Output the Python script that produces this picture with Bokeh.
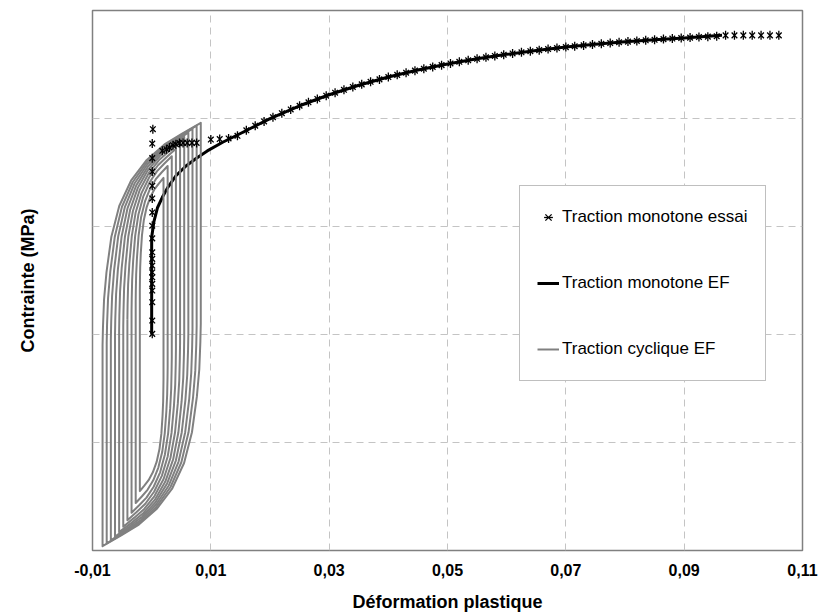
import math
from bokeh.plotting import figure
from bokeh.models import Range1d, FixedTicker, Legend, LegendItem
from bokeh.embed import file_html
from bokeh.resources import INLINE

# ---------------- data ----------------
x_ticks = [-0.01, 0.01, 0.03, 0.05, 0.07, 0.09, 0.11]
x_tick_labels = ["-0,01", "0,01", "0,03", "0,05", "0,07", "0,09", "0,11"]
y_ticks = [-200, -100, 0, 100, 200, 300]

# Traction monotone essai (stars)
essai_strain = [
    0.0001, 0.0001, 0.0001, 0.0001, 0.0001, 0.0001, 0.0001, 0.0001, 0.0001, 0.0001,
    0.0001, 0.0001, 0.0001, 0.0001, 0.0001, 0.0001, 0.0001, 0.0001, 0.0002,
    0.0018, 0.0025, 0.0030, 0.0036, 0.0041, 0.0047, 0.0053, 0.0060, 0.0068, 0.0076,
    0.0100, 0.0115, 0.0130, 0.0145,
    0.0160, 0.0175, 0.0190, 0.0205, 0.0220, 0.0235, 0.0250, 0.0265, 0.0280, 0.0295,
    0.0310, 0.0325, 0.0340, 0.0355, 0.0370, 0.0385, 0.0400, 0.0415, 0.0430, 0.0445,
    0.0460, 0.0475, 0.0490, 0.0505, 0.0520, 0.0535, 0.0550, 0.0565, 0.0580, 0.0595,
    0.0610, 0.0625, 0.0640, 0.0655, 0.0670, 0.0685, 0.0700, 0.0715, 0.0730, 0.0745,
    0.0760, 0.0775, 0.0790, 0.0805, 0.0820, 0.0835, 0.0850, 0.0865, 0.0880, 0.0895,
    0.0910, 0.0925, 0.0940, 0.0955,
    0.0970, 0.0985, 0.1000, 0.1015, 0.1030, 0.1045, 0.1060,
]
essai_stress = [
    0.6, 12.9, 29.9, 40.7, 46.9, 53.0, 57.6, 63.8, 70.0, 76.1,
    89.0, 100.7, 113.0, 126.0, 137.7, 150.9, 163.3, 176.8, 190.1,
    170.1, 171.6, 173.1, 175.3, 176.2, 177.2, 177.4, 177.4, 177.4, 177.4,
    180.5, 181.0, 181.5, 184.0,
    189.1, 193.3, 197.3, 201.2, 204.9, 208.4, 211.8, 215.0, 218.1, 221.1,
    223.9, 226.6, 229.2, 231.6, 234.0, 236.2, 238.4, 240.4, 242.4, 244.3,
    246.1, 247.8, 249.4, 251.0, 252.5, 253.9, 255.3, 256.6, 257.9, 259.1,
    260.2, 261.3, 262.3, 263.3, 264.3, 265.2, 266.1, 266.9, 267.7, 268.5,
    269.2, 269.9, 270.6, 271.2, 271.8, 272.4, 272.9, 273.5, 274.0, 274.5,
    274.9, 275.4, 275.8, 276.2,
    277.0, 277.0, 277.0, 277.0, 277.0, 277.0, 277.0,
]

# Traction monotone EF (thick black line)
mono_strain = [0.0, 0.0, 0.0004, 0.0010, 0.0018, 0.0027, 0.0041, 0.0058, 0.0075, 0.0094,
               0.0120, 0.0150, 0.0200, 0.0250, 0.0300, 0.0350, 0.0400, 0.0450, 0.0500,
               0.0550, 0.0600, 0.0650, 0.0700, 0.0750, 0.0800, 0.0850, 0.0900, 0.0964]
mono_stress = [0.0, 90.0, 105.0, 117.6, 127.0, 136.0, 147.0, 156.0, 163.0, 170.0,
               178.0, 186.1, 199.9, 211.8, 222.0, 230.8, 238.4, 244.9, 250.5,
               255.3, 259.4, 263.0, 266.1, 268.7, 271.0, 272.9, 274.6, 277.0]

# Traction cyclique EF: 10 closed hysteresis loops (innermost first).
cyc_strain = [
    [-0.0020, -0.00198, -0.00194, -0.00184, -0.00164, -0.00132, -0.00084, -0.0002, 0.00052, 0.00124, 0.0020,
     0.0020, 0.00198, 0.00194, 0.00184, 0.00164, 0.00132, 0.00084, 0.0002, -0.00052, -0.00124, -0.0020, -0.0020],
    [-0.0027, -0.00268, -0.00262, -0.00248, -0.00221, -0.00178, -0.00113, -0.00027, 0.0007, 0.00167, 0.0027,
     0.0027, 0.00268, 0.00262, 0.00248, 0.00221, 0.00178, 0.00113, 0.00027, -0.0007, -0.00167, -0.0027, -0.0027],
    [-0.0034, -0.00337, -0.0033, -0.00313, -0.00279, -0.00224, -0.00143, -0.00034, 0.00088, 0.00211, 0.0034,
     0.0034, 0.00337, 0.0033, 0.00313, 0.00279, 0.00224, 0.00143, 0.00034, -0.00088, -0.00211, -0.0034, -0.0034],
    [-0.0041, -0.00407, -0.00398, -0.00377, -0.00336, -0.00271, -0.00172, -0.00041, 0.00107, 0.00254, 0.0041,
     0.0041, 0.00407, 0.00398, 0.00377, 0.00336, 0.00271, 0.00172, 0.00041, -0.00107, -0.00254, -0.0041, -0.0041],
    [-0.0048, -0.00476, -0.00466, -0.00442, -0.00394, -0.00317, -0.00202, -0.00048, 0.00125, 0.00298, 0.0048,
     0.0048, 0.00476, 0.00466, 0.00442, 0.00394, 0.00317, 0.00202, 0.00048, -0.00125, -0.00298, -0.0048, -0.0048],
    [-0.0055, -0.00546, -0.00534, -0.00506, -0.00451, -0.00363, -0.00231, -0.00055, 0.00143, 0.00341, 0.0055,
     0.0055, 0.00546, 0.00534, 0.00506, 0.00451, 0.00363, 0.00231, 0.00055, -0.00143, -0.00341, -0.0055, -0.0055],
    [-0.0062, -0.00615, -0.00601, -0.0057, -0.00508, -0.00409, -0.0026, -0.00062, 0.00161, 0.00384, 0.0062,
     0.0062, 0.00615, 0.00601, 0.0057, 0.00508, 0.00409, 0.0026, 0.00062, -0.00161, -0.00384, -0.0062, -0.0062],
    [-0.0069, -0.00684, -0.00669, -0.00635, -0.00566, -0.00455, -0.0029, -0.00069, 0.00179, 0.00428, 0.0069,
     0.0069, 0.00684, 0.00669, 0.00635, 0.00566, 0.00455, 0.0029, 0.00069, -0.00179, -0.00428, -0.0069, -0.0069],
    [-0.0076, -0.00754, -0.00737, -0.00699, -0.00623, -0.00502, -0.00319, -0.00076, 0.00198, 0.00471, 0.0076,
     0.0076, 0.00754, 0.00737, 0.00699, 0.00623, 0.00502, 0.00319, 0.00076, -0.00198, -0.00471, -0.0076, -0.0076],
    [-0.0083, -0.00823, -0.00805, -0.00764, -0.00681, -0.00548, -0.00349, -0.00083, 0.00216, 0.00515, 0.0083,
     0.0083, 0.00823, 0.00805, 0.00764, 0.00681, 0.00548, 0.00349, 0.00083, -0.00216, -0.00515, -0.0083, -0.0083],
]
cyc_stress = [
    [41.0, 49.5, 62.3, 75.1, 91.8, 106.1, 118.0, 127.6, 134.9, 140.0, 145.0,
     -41.0, -49.5, -62.3, -75.1, -91.8, -106.1, -118.0, -127.6, -134.9, -140.0, -145.0, 41.0],
    [30.0, 40.3, 55.8, 71.3, 91.5, 108.9, 123.2, 135.0, 143.8, 150.0, 156.0,
     -30.0, -40.3, -55.8, -71.3, -91.5, -108.9, -123.2, -135.0, -143.8, -150.0, -156.0, 30.0],
    [21.0, 32.8, 50.5, 68.2, 91.3, 111.1, 127.6, 141.0, 151.0, 158.1, 165.0,
     -21.0, -32.8, -50.5, -68.2, -91.3, -111.1, -127.6, -141.0, -151.0, -158.1, -165.0, 21.0],
    [14.0, 27.0, 46.4, 65.8, 91.1, 112.9, 130.9, 145.6, 156.7, 164.4, 172.0,
     -14.0, -27.0, -46.4, -65.8, -91.1, -112.9, -130.9, -145.6, -156.7, -164.4, -172.0, 14.0],
    [8.0, 21.9, 42.9, 63.8, 91.0, 114.4, 133.8, 149.6, 161.5, 169.8, 178.0,
     -8.0, -21.9, -42.9, -63.8, -91.0, -114.4, -133.8, -149.6, -161.5, -169.8, -178.0, 8.0],
    [3.0, 17.8, 39.9, 62.0, 90.8, 115.7, 136.2, 152.9, 165.5, 174.4, 183.0,
     -3.0, -17.8, -39.9, -62.0, -90.8, -115.7, -136.2, -152.9, -165.5, -174.4, -183.0, 3.0],
    [-1.0, 14.4, 37.5, 60.7, 90.7, 116.7, 138.1, 155.6, 168.8, 178.0, 187.0,
     1.0, -14.4, -37.5, -60.7, -90.7, -116.7, -138.1, -155.6, -168.8, -178.0, -187.0, -1.0],
    [-4.5, 11.5, 35.5, 59.5, 90.7, 117.6, 139.8, 157.9, 171.6, 181.1, 190.5,
     4.5, -11.5, -35.5, -59.5, -90.7, -117.6, -139.8, -157.9, -171.6, -181.1, -190.5, -4.5],
    [-7.5, 9.0, 33.7, 58.4, 90.6, 118.3, 141.2, 159.9, 174.0, 183.9, 193.5,
     7.5, -9.0, -33.7, -58.4, -90.6, -118.3, -141.2, -159.9, -174.0, -183.9, -193.5, -7.5],
    [-10.0, 6.9, 32.2, 57.6, 90.5, 119.0, 142.4, 161.6, 176.0, 186.1, 196.0,
     10.0, -6.9, -32.2, -57.6, -90.5, -119.0, -142.4, -161.6, -176.0, -186.1, -196.0, -10.0],
]

series_labels = ["Traction monotone essai", "Traction monotone EF", "Traction cyclique EF"]
x_title = "Déformation plastique"
y_title = "Contrainte (MPa)"

# ---------------- figure ----------------
FONT = "Liberation Sans"

p = figure(width=819, height=614,
           x_range=Range1d(-0.01, 0.11), y_range=Range1d(-200, 300),
           output_backend="svg", toolbar_location=None,
           min_border_left=92, min_border_right=17, min_border_top=10, min_border_bottom=62)
p.background_fill_color = "white"
p.border_fill_color = "white"
p.outline_line_color = "#808080"
p.outline_line_width = 1.5

p.xgrid.ticker = FixedTicker(ticks=x_ticks)
p.ygrid.ticker = FixedTicker(ticks=y_ticks)
for g in (p.xgrid[0], p.ygrid[0]):
    g.grid_line_color = "#c4c4c4"
    g.grid_line_dash = "7 5"
    g.grid_line_width = 1

xa = p.xaxis[0]
ya = p.yaxis[0]
for ax in (xa, ya):
    ax.axis_line_color = None
    ax.major_tick_line_color = None
    ax.minor_tick_line_color = None
    ax.major_tick_out = 0
    ax.major_tick_in = 0
    ax.minor_tick_out = 0
    ax.minor_tick_in = 0
    ax.axis_label_text_font = FONT
    ax.axis_label_text_font_style = "bold"
    ax.axis_label_text_font_size = "18px"
    ax.axis_label_text_color = "black"
    ax.major_label_text_font = FONT
    ax.major_label_text_font_style = "bold"
    ax.major_label_text_font_size = "16px"
    ax.major_label_text_color = "black"

xa.ticker = FixedTicker(ticks=x_ticks)
xa.major_label_overrides = {t: lab for t, lab in zip(x_ticks, x_tick_labels)}
xa.major_label_standoff = 13
xa.axis_label = x_title
xa.axis_label_standoff = 13

ya.ticker = FixedTicker(ticks=y_ticks)
ya.major_label_overrides = {t: "" for t in y_ticks}
ya.axis_label = y_title
ya.axis_label_standoff = 55

# ---------------- series ----------------
r_mono = p.line(mono_strain, mono_stress, line_color="black", line_width=3)
r_cyc = p.multi_line(cyc_strain, cyc_stress, line_color="#808080", line_width=2,
                     line_join="round")
r_star1 = p.scatter(essai_strain, essai_stress, marker="x", size=8,
                    line_color="black", line_width=1.3)
r_star2 = p.scatter(essai_strain, essai_stress, marker="dash", size=9, angle=math.pi / 2,
                    line_color="black", line_width=1.3)

legend = Legend(items=[
    LegendItem(label=series_labels[0], renderers=[r_star1, r_star2]),
    LegendItem(label=series_labels[1], renderers=[r_mono]),
    LegendItem(label=series_labels[2], renderers=[r_cyc]),
], location=(427, 169))
legend.padding = 17
legend.spacing = 38
legend.margin = 0
legend.glyph_height = 28
legend.glyph_width = 22
legend.label_height = 28
legend.label_standoff = 3
legend.label_text_font = FONT
legend.label_text_font_size = "17px"
legend.label_text_color = "black"
legend.border_line_color = "#808080"
legend.border_line_width = 1
legend.background_fill_color = "white"
legend.background_fill_alpha = 1.0
p.add_layout(legend)

open("out.html", "w").write(file_html(p, INLINE))
